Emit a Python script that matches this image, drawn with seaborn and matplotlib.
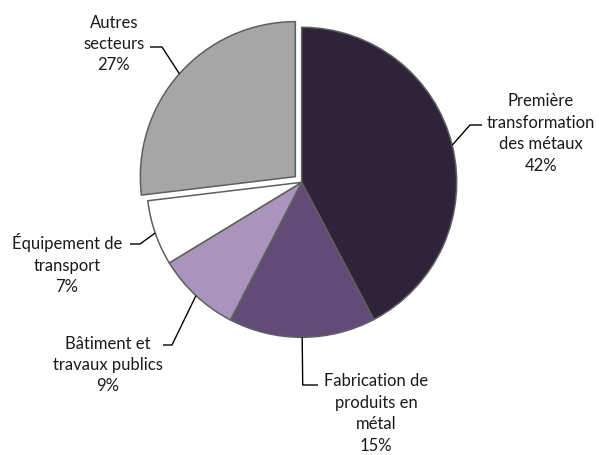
import matplotlib
matplotlib.use("Agg")
import math
import matplotlib.pyplot as plt
import seaborn as sns

# ---- data ----
categories = ["Première\ntransformation\ndes métaux",
              "Fabrication de\nproduits en\nmétal",
              "Bâtiment et\ntravaux publics",
              "Équipement de\ntransport",
              "Autres\nsecteurs"]
shares = [42.3, 15.3, 8.7, 6.8, 26.9]
colors = ["#2e2338", "#634b78", "#a994be", "#ffffff", "#a6a6a6"]
explode = [0, 0, 0, 0, 8.5]

# label layout in image pixels: text centre (x, y), elbow (x, y), end x
label_layout = [
    ((541, 133.6), (470, 126), 482),
    ((376, 413.5), (302.7, 386), 318),
    ((108, 365.0), (172, 346), 163),
    ((67, 264.0), (140, 245), 130),
    ((114, 44.0), (162, 48), 150),
]

sns.set_theme(style="white")
plt.rcParams['font.family'] = ['Lato', 'DejaVu Sans']

W, H = 599, 456
fig = plt.figure(figsize=(W / 100, H / 100), dpi=100)
ax = fig.add_axes([0, 0, 1, 1])

cx, cy, r = 301.7, H - 183.3, 155
wedges, _ = ax.pie(shares, colors=colors, explode=explode, startangle=90,
                   counterclock=False, center=(cx, cy), radius=r,
                   wedgeprops=dict(edgecolor="#5f5f5f", linewidth=1.1),
                   frame=True)
ax.set_xlim(0, W)
ax.set_ylim(0, H)
ax.set_aspect('equal')
ax.axis('off')

for w, cat, share, ex, (tpos, elbow, endx) in zip(wedges, categories, shares, explode, label_layout):
    thm = math.radians((w.theta1 + w.theta2) / 2)
    px = cx + (r + ex) * math.cos(thm)
    py = cy + (r + ex) * math.sin(thm)
    ex_, ey_ = elbow[0], H - elbow[1]
    ax.plot([px, ex_, endx], [py, ey_, ey_], color="black", lw=1.0,
            solid_capstyle="butt", zorder=3)
    ax.text(tpos[0], H - tpos[1], f"{cat}\n{round(share):.0f}%",
            ha="center", va="center", fontsize=12, color="#1a1a1a",
            linespacing=1.42, multialignment="center")

fig.savefig("out.png", dpi=100)
